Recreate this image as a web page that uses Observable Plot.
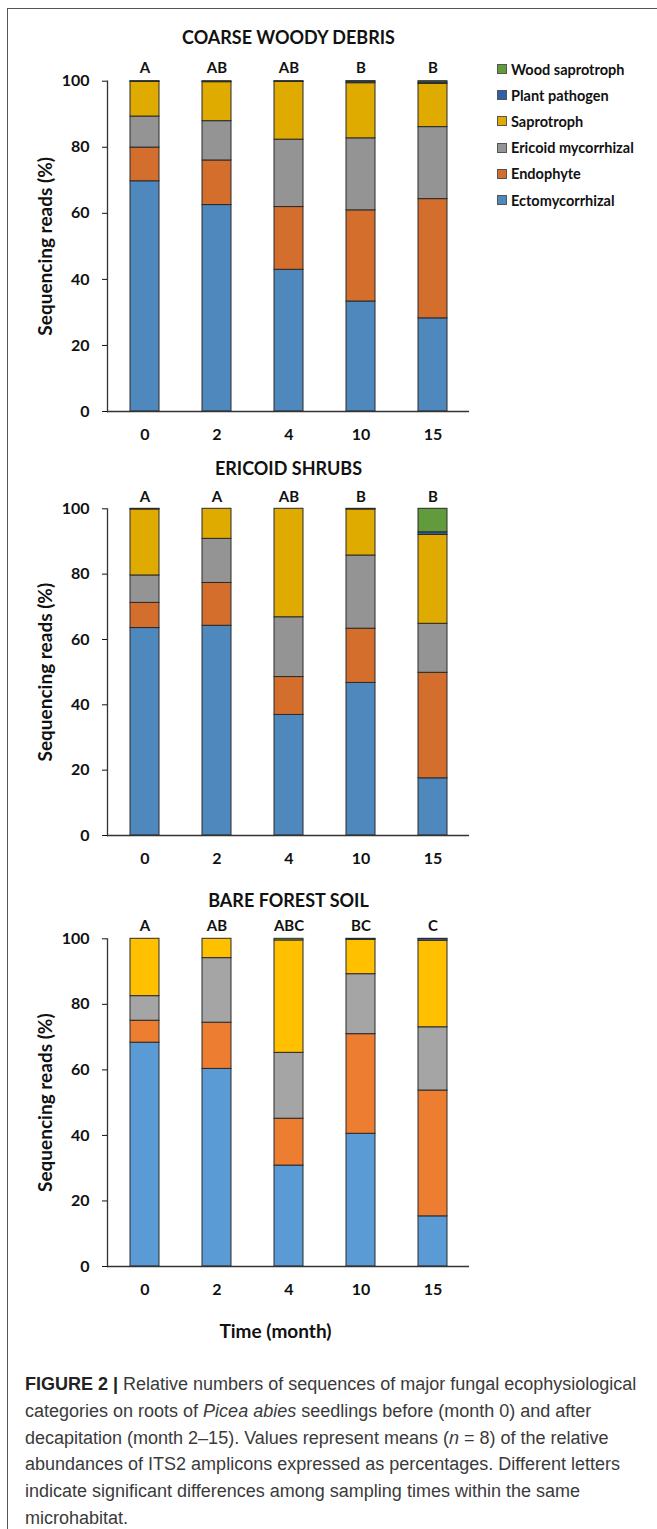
<!DOCTYPE html>
<html>
<head>
<meta charset="utf-8">
<script src="https://cdn.jsdelivr.net/npm/d3@7"></script>
<script src="https://cdn.jsdelivr.net/npm/@observablehq/plot@0.6"></script>
<style>
  html, body { margin: 0; padding: 0; background: #fff; }
  #page { position: relative; width: 657px; height: 1529px; overflow: hidden; background: #fff; }
  #frame { position: absolute; left: 7px; top: 8px; right: -5px; bottom: -5px; border-top: 1.5px solid #555; border-left: 1.5px solid #555; }
  .panel { position: absolute; left: 0; }
  #legend { position: absolute; left: 497px; top: 56px; font-family: Lato, "Liberation Sans", sans-serif; font-weight: bold; font-size: 14.5px; color: #111; }
  #legend .row { height: 26.2px; display: flex; align-items: center; white-space: nowrap; }
  #legend .sw { width: 10px; height: 10px; border: 1px solid #555; margin-right: 4px; box-sizing: border-box; }
  #caption { position: absolute; left: 25px; top: 1371px; font-family: "Liberation Sans", Arial, sans-serif; font-size: 18px; line-height: 26.8px; color: #3a3a3a; white-space: nowrap; }
  #caption b { color: #222; }
</style>
</head>
<body>
<div id="page">
  <div id="frame"></div>
  <div id="legend"></div>
  <div id="caption">
    <b>FIGURE 2 |</b> Relative numbers of sequences of major fungal ecophysiological<br>
    categories on roots of <i>Picea abies</i> seedlings before (month 0) and after<br>
    decapitation (month 2–15). Values represent means (<i>n</i> = 8) of the relative<br>
    abundances of ITS2 amplicons expressed as percentages. Different letters<br>
    indicate significant differences among sampling times within the same<br>
    microhabitat.
  </div>
</div>
<script>
// ---- data ----
const months = ["0", "2", "4", "10", "15"];
const categories = ["Ectomycorrhizal", "Endophyte", "Ericoid mycorrhizal", "Saprotroph", "Plant pathogen", "Wood saprotroph"];

// Coarse woody debris (%), bottom to top
const cwdEcto   = [69.7, 62.5, 42.9, 33.3, 28.2];
const cwdEndo   = [10.2, 13.5, 19.0, 27.6, 36.1];
const cwdEric   = [9.4, 11.9, 20.4, 21.8, 21.8];
const cwdSapro  = [10.5, 11.8, 17.5, 16.7, 13.1];
const cwdPath   = [0.1, 0.1, 0.1, 0.5, 0.4];
const cwdWood   = [0.1, 0.2, 0.1, 0.1, 0.4];
const cwdLetters = ["A", "AB", "AB", "B", "B"];

// Ericoid shrubs (%)
const esEcto   = [63.5, 64.2, 36.9, 46.7, 17.5];
const esEndo   = [7.7, 13.1, 11.6, 16.6, 32.3];
const esEric   = [8.4, 13.5, 18.3, 22.4, 15.0];
const esSapro  = [20.2, 9.2, 33.2, 14.1, 27.2];
const esPath   = [0.1, 0.0, 0.0, 0.1, 0.8];
const esWood   = [0.1, 0.0, 0.0, 0.1, 7.2];
const esLetters = ["A", "A", "AB", "B", "B"];

// Bare forest soil (%)
const bfsEcto   = [68.3, 60.3, 30.8, 40.5, 15.3];
const bfsEndo   = [6.7, 14.1, 14.3, 30.4, 38.4];
const bfsEric   = [7.5, 19.7, 20.1, 18.3, 19.3];
const bfsSapro  = [17.5, 5.9, 34.3, 10.5, 26.4];
const bfsPath   = [0.0, 0.0, 0.0, 0.2, 0.5];
const bfsWood   = [0.0, 0.0, 0.5, 0.1, 0.1];
const bfsLetters = ["A", "AB", "ABC", "BC", "C"];

const legendOrder = ["Wood saprotroph", "Plant pathogen", "Saprotroph", "Ericoid mycorrhizal", "Endophyte", "Ectomycorrhizal"];

// ---- styling ----
const darkColors = ["#4f88bd", "#d46e2d", "#949494", "#e0ab00", "#2f5fa8", "#629b3c"];
const brightColors = ["#5b9bd5", "#ed7d31", "#a5a5a5", "#ffc000", "#4472c4", "#70ad47"];

function toRows(series) {
  const rows = [];
  categories.forEach((c, i) => months.forEach((m, j) => {
    if (series[i][j] > 0) rows.push({month: m, cat: c, value: series[i][j]});
  }));
  return rows;
}

function panel({title, series, letters, colors, top, height, marginTop, marginBottom, titleDy, letterDy, xLabel}) {
  const marks = [
    Plot.barY(toRows(series), {x: "month", y: "value", fill: "cat", stroke: "#2a2a2a", strokeWidth: 1}),
    Plot.ruleY([0], {stroke: "#333", strokeWidth: 1.3}),
    Plot.frame({anchor: "left", stroke: "#333", strokeWidth: 1.3}),
    Plot.axisY({ticks: [0, 20, 40, 60, 80, 100], tickSize: 5, tickPadding: 13, label: null, fontSize: 16, fontWeight: "bold"}),
    Plot.axisX({tickSize: 0, tickPadding: 17, label: null, fontSize: 16, fontWeight: "bold"}),
    Plot.text(letters, {x: (d, i) => months[i], y: () => 100, text: d => d, dy: letterDy, fontSize: 15, fontWeight: "bold", lineAnchor: "middle"}),
    Plot.text([title], {frameAnchor: "top", dy: titleDy, fontSize: 18, fontWeight: "bold", lineAnchor: "middle", textAnchor: "middle"}),
    Plot.text(["Sequencing reads (%)"], {frameAnchor: "left", rotate: -90, dx: -62, fontSize: 19, fontWeight: "bold", lineAnchor: "middle", textAnchor: "middle"})
  ];
  if (xLabel) marks.push(Plot.text([xLabel], {frameAnchor: "bottom", dy: 65, dx: -13, fontSize: 19, fontWeight: "bold", lineAnchor: "middle", textAnchor: "middle"}));
  const svg = Plot.plot({
    width: 480, height, marginTop, marginBottom, marginLeft: 107, marginRight: 11,
    style: {background: "transparent", fontFamily: "Lato, 'Liberation Sans', sans-serif", color: "#111", overflow: "visible"},
    x: {domain: months, paddingInner: 0.6, paddingOuter: 0.3, axis: null},
    y: {domain: [0, 100], axis: null},
    color: {domain: categories, range: colors},
    marks
  });
  svg.classList.add("panel");
  svg.style.top = top + "px";
  svg.style.position = "absolute";
  svg.style.left = "0px";
  document.getElementById("page").appendChild(svg);
}

panel({title: "COARSE WOODY DEBRIS", series: [cwdEcto, cwdEndo, cwdEric, cwdSapro, cwdPath, cwdWood], letters: cwdLetters,
  colors: darkColors, top: 0, height: 448, marginTop: 80.7, marginBottom: 37, titleDy: -42.7, letterDy: -13});
panel({title: "ERICOID SHRUBS", series: [esEcto, esEndo, esEric, esSapro, esPath, esWood], letters: esLetters,
  colors: darkColors, top: 448, height: 430, marginTop: 60.3, marginBottom: 43, titleDy: -39.3, letterDy: -12});
panel({title: "BARE FOREST SOIL", series: [bfsEcto, bfsEndo, bfsEric, bfsSapro, bfsPath, bfsWood], letters: bfsLetters,
  colors: brightColors, top: 878, height: 470, marginTop: 60.3, marginBottom: 82, titleDy: -37.6, letterDy: -13, xLabel: "Time (month)"});

// legend
const legend = document.getElementById("legend");
legendOrder.forEach(name => {
  const row = document.createElement("div");
  row.className = "row";
  const sw = document.createElement("div");
  sw.className = "sw";
  sw.style.background = darkColors[categories.indexOf(name)];
  const label = document.createElement("span");
  label.textContent = name;
  row.appendChild(sw);
  row.appendChild(label);
  legend.appendChild(row);
});
</script>
</body>
</html>
